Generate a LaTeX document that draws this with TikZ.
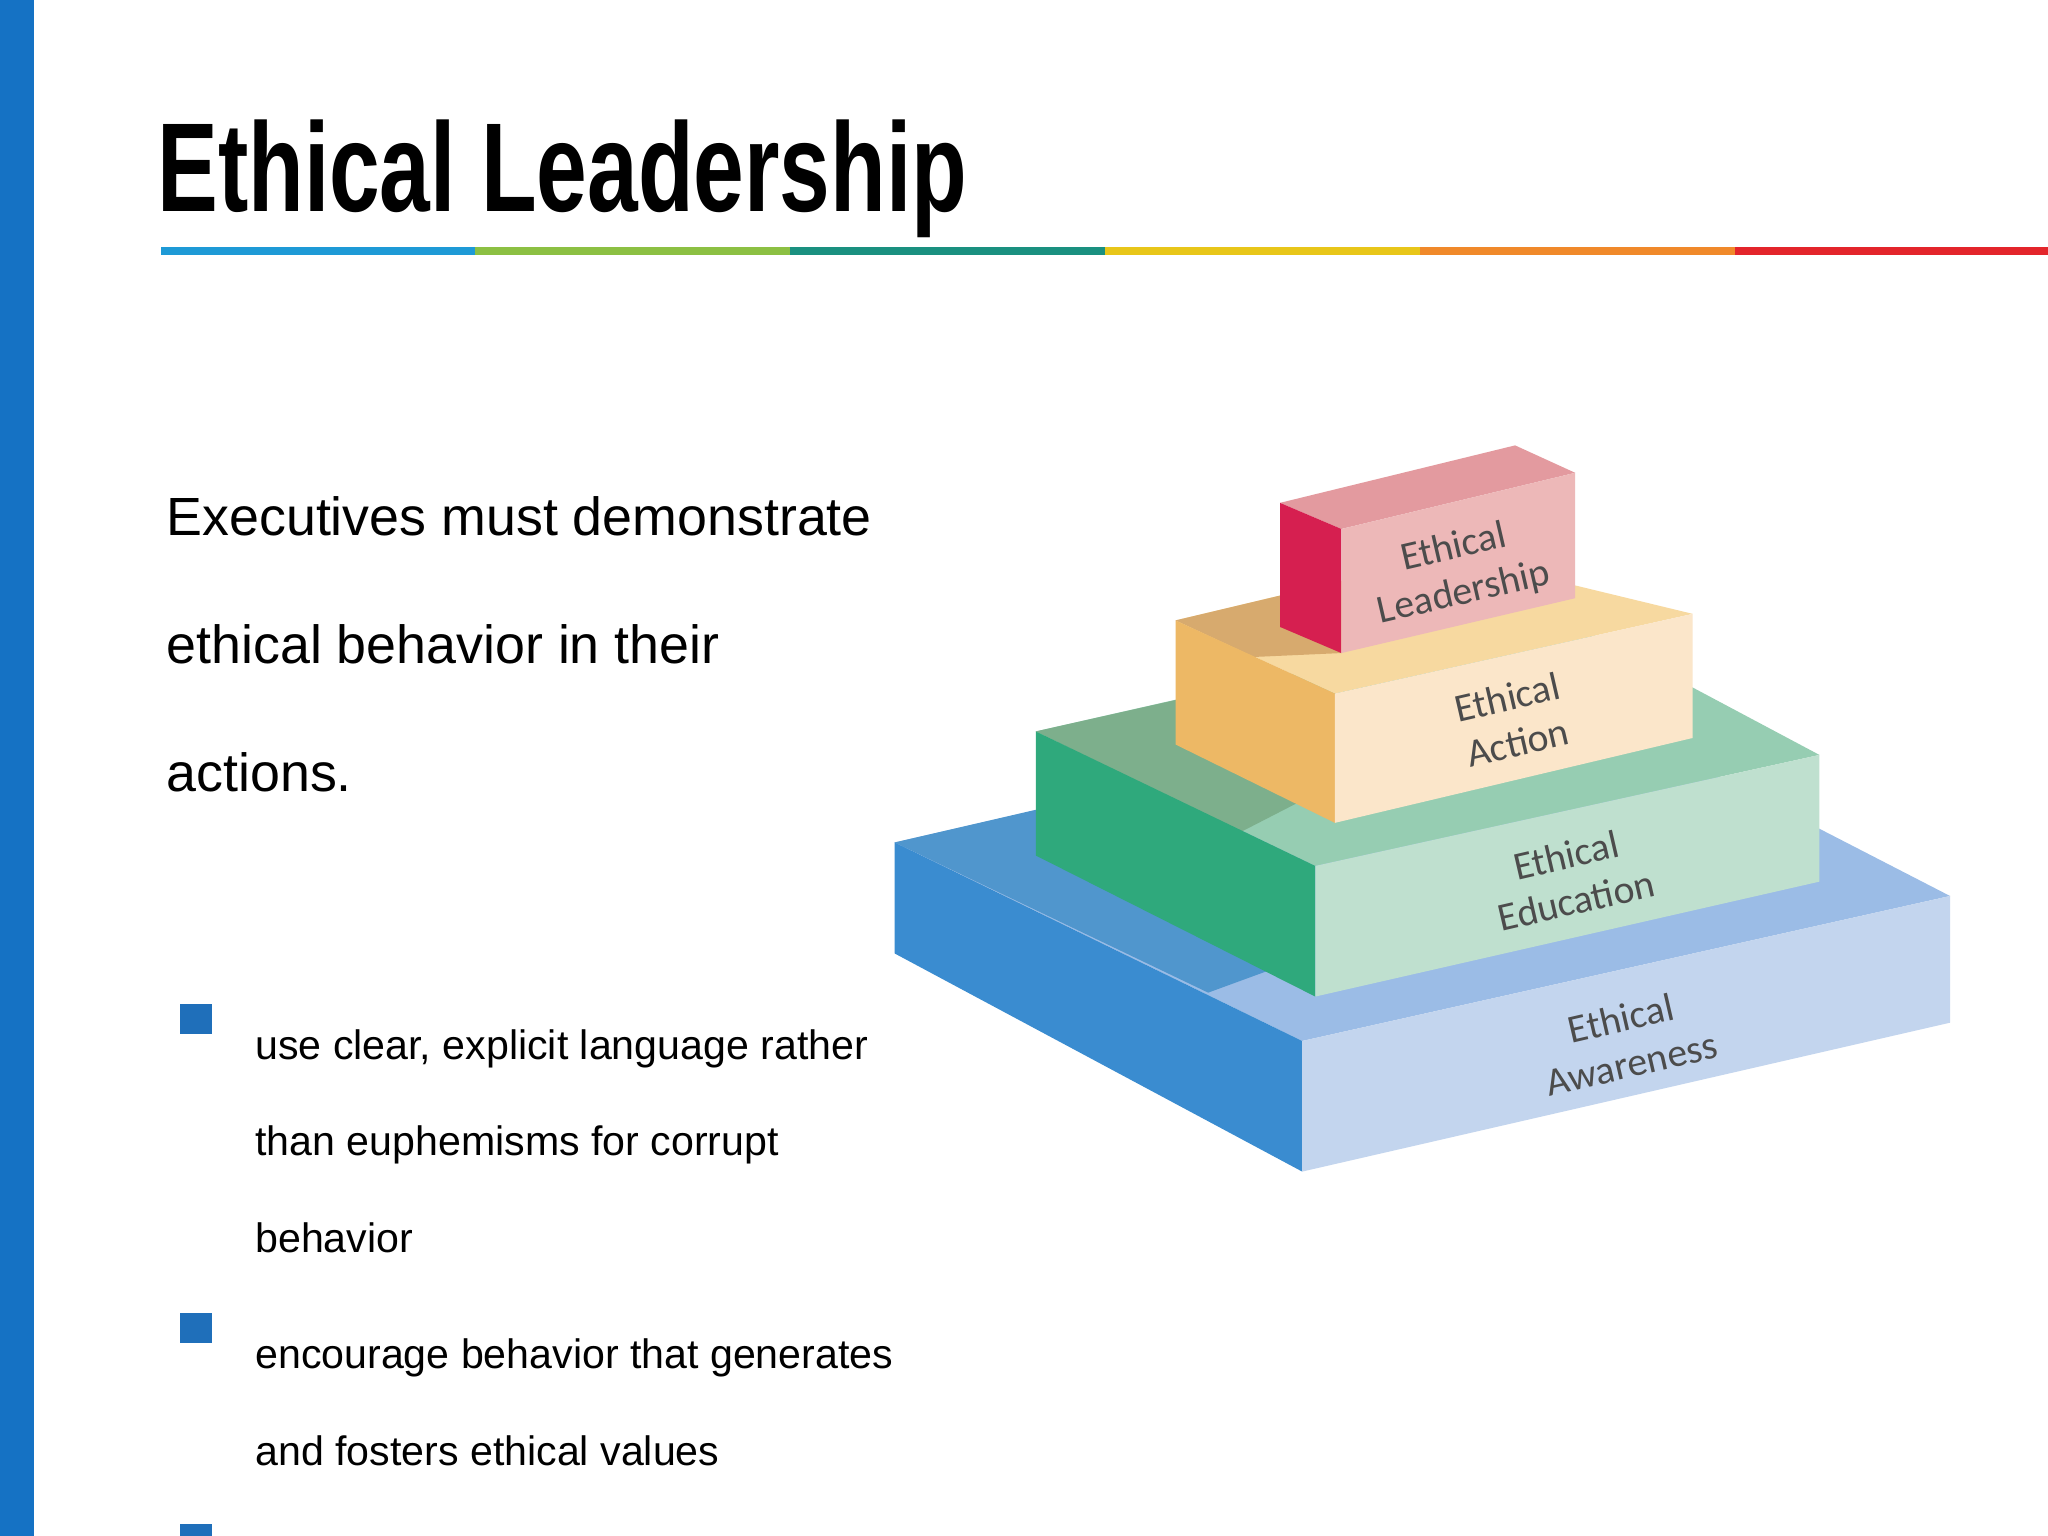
\documentclass[tikz,border=0pt]{standalone}
\usepackage{fontspec}
\setmainfont{Liberation Sans}
\newfontfamily\labfont{Carlito}
\definecolor{barblue}{HTML}{1572C4}
\definecolor{bul}{HTML}{1F6FBA}
\tikzset{
  bodytxt/.style={anchor=base west,font=\fontsize{15.3}{18}\selectfont,inner sep=0},
  smalltxt/.style={anchor=base west,font=\fontsize{11.7}{14}\selectfont,inner sep=0},
  bulsq/.style={fill=bul,draw=none},
  plab/.style={font=\labfont\fontsize{11.3}{13.2}\selectfont,text=black!70,align=center,rotate=13,inner sep=0}
}
\begin{document}
\begin{tikzpicture}[x=0.013061cm,y=-0.013061cm]
\useasboundingbox (0,0) rectangle (1568,1176);
\fill[white] (0,0) rectangle (1568,1176);
\fill[barblue] (0,0) rectangle (26,1176);
\node[anchor=base west,inner sep=0,xscale=0.72,font=\bfseries\fontsize{36}{40}\selectfont] (title) at (120,162) {Ethical Leadership};
\foreach \c/\i in {1E9AD6/0,8CC043/1,1A9080/2,E8C619/3,F0892A/4,E3252B/5}{
  \definecolor{seg}{HTML}{\c}
  \fill[seg] (123+241*\i,189) rectangle (123+241*\i+241,195);
}
\node[bodytxt] (t1) at (127,410) {Executives must demonstrate};
\node[bodytxt] (t2) at (127,508) {ethical behavior in their};
\node[bodytxt] (t3) at (127,606) {actions.};
\fill[bulsq] (138,769) rectangle (162,792);
\fill[bulsq] (138,1005) rectangle (162,1028);
\fill[bulsq] (138,1167) rectangle (162,1190);
\node[smalltxt] (b1) at (195,811) {use clear, explicit language rather};
\node[smalltxt] (b2) at (195,885) {than euphemisms for corrupt};
\node[smalltxt] (b3) at (195,959) {behavior};
\node[smalltxt] (b4) at (195,1048) {encourage behavior that generates};
\node[smalltxt] (b5) at (195,1122) {and fosters ethical values};
% pyramid: blue
\fill[fill={rgb,255:red,155;green,188;blue,230}] (685,645) -- (1190,530) -- (1493,686) -- (997,797) -- cycle;
\fill[fill={rgb,255:red,80;green,150;blue,205}] (685,645) -- (793,620) -- (1007,730) -- (925,760) -- cycle;
\fill[fill={rgb,255:red,58;green,140;blue,208}] (685,645) -- (997,797) -- (997,897) -- (685,730) -- cycle;
\fill[fill={rgb,255:red,195;green,213;blue,238}] (997,797) -- (1493,686) -- (1493,783) -- (997,897) -- cycle;
% green
\fill[fill={rgb,255:red,150;green,205;blue,178}] (793,560) -- (1190,470) -- (1393,578) -- (1007,663) -- cycle;
\fill[fill={rgb,255:red,125;green,175;blue,140}] (793,560) -- (900,536) -- (1022,600) -- (950,637) -- cycle;
\fill[fill={rgb,255:red,47;green,169;blue,124}] (793,560) -- (1007,663) -- (1007,763) -- (793,655) -- cycle;
\fill[fill={rgb,255:red,191;green,224;blue,207}] (1007,663) -- (1393,578) -- (1393,675) -- (1007,763) -- cycle;
% orange
\fill[fill={rgb,255:red,247;green,217;blue,160}] (900,475) -- (1110,425) -- (1296,470) -- (1022,531) -- cycle;
\fill[fill={rgb,255:red,215;green,170;blue,110}] (900,475) -- (980,456) -- (1027,500) -- (960,503) -- cycle;
\fill[fill={rgb,255:red,237;green,184;blue,101}] (900,475) -- (1022,531) -- (1022,630) -- (900,570) -- cycle;
\fill[fill={rgb,255:red,251;green,230;blue,202}] (1022,531) -- (1296,470) -- (1296,565) -- (1022,630) -- cycle;
% red
\fill[fill={rgb,255:red,227;green,154;blue,159}] (980,385) -- (1160,341) -- (1206,362) -- (1027,405) -- cycle;
\fill[fill={rgb,255:red,214;green,31;blue,80}] (980,385) -- (1027,405) -- (1027,500) -- (980,480) -- cycle;
\fill[fill={rgb,255:red,237;green,184;blue,184}] (1027,405) -- (1206,362) -- (1206,458) -- (1027,500) -- cycle;
\node[plab] (l1) at (1117,437) {Ethical\\Leadership};
\node[plab] (l2) at (1158,551) {Ethical\\Action};
\node[plab] (l3) at (1203,672) {Ethical\\Education};
\node[plab] (l4) at (1245,797) {Ethical\\Awareness};
\end{tikzpicture}
\end{document}
